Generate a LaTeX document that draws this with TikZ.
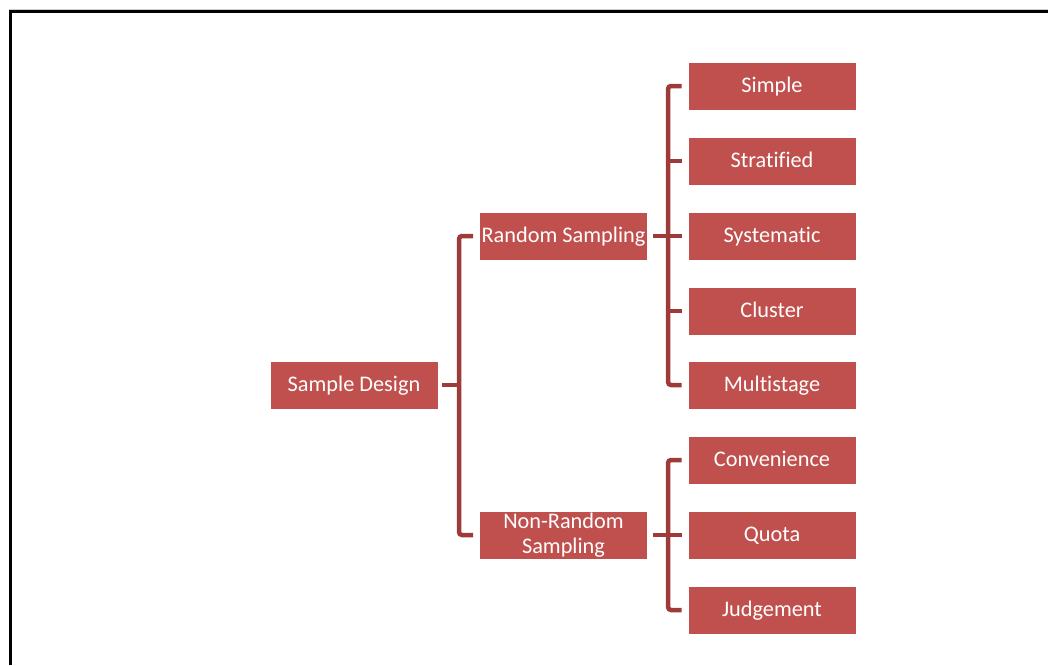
\documentclass[tikz,border=0pt]{standalone}
\usepackage{fontspec}
\setmainfont[RawFeature={-liga;-clig;-calt;-dlig}]{Carlito}
\definecolor{boxred}{RGB}{192,80,77}
\definecolor{linered}{RGB}{158,58,56}
\begin{document}
\begin{tikzpicture}[x=1pt,y=-1pt,
  boxbase/.style={fill=boxred,draw=white,line width=0.6pt,minimum width=168pt,minimum height=48pt,inner sep=0pt,
    text=white,font=\fontsize{22.3}{25}\selectfont,align=center},
  box/.style={boxbase,text height=16pt,text depth=2.6pt},
  conn/.style={draw=linered,line width=4.5pt,rounded corners=3pt}]
\useasboundingbox (0,0) rectangle (1048,665);
% frame
\draw[gray!40,line width=1pt] (9,9.5) -- (1048,9.5);
\draw[black,line width=3pt] (10.5,665) -- (10.5,11) -- (1048,11);
% nodes
\node[box] (sd) at (354,385) {Sample Design};
\node[box] (rs) at (563.5,236) {Random Sampling};
\node[boxbase] (nr) at (563.5,535) {Non-Random\\Sampling};
\node[box] (c1) at (772,86) {Simple};
\node[box] (c2) at (772,161) {Stratified};
\node[box] (c3) at (772,236) {Systematic};
\node[box] (c4) at (772,311) {Cluster};
\node[box] (c5) at (772,385) {Multistage};
\node[box] (c6) at (772,460) {Convenience};
\node[box] (c7) at (772,535) {Quota};
\node[box] (c8) at (772,610) {Judgement};
% level 1 connectors
\coordinate (v1) at (459,0);
\draw[conn] ([xshift=4pt]sd.east) -- (v1 |- sd.east);
\draw[conn] ([xshift=-6pt]rs.west) -| (v1 |- sd.east) |- ([xshift=-6pt]nr.west);
% level 2 connectors (random)
\coordinate (v2) at (668,0);
\draw[conn] ([xshift=5pt]rs.east) -- ([xshift=-6pt]c3.west);
\draw[conn] ([xshift=-6pt]c1.west) -| (v2 |- c3.west) |- ([xshift=-6pt]c5.west);
\draw[conn] (v2 |- c2.west) -- ([xshift=-6pt]c2.west);
\draw[conn] (v2 |- c4.west) -- ([xshift=-6pt]c4.west);
% level 2 connectors (non-random)
\draw[conn] ([xshift=5pt]nr.east) -- ([xshift=-6pt]c7.west);
\draw[conn] ([xshift=-6pt]c6.west) -| (v2 |- c7.west) |- ([xshift=-6pt]c8.west);
\end{tikzpicture}
\end{document}
